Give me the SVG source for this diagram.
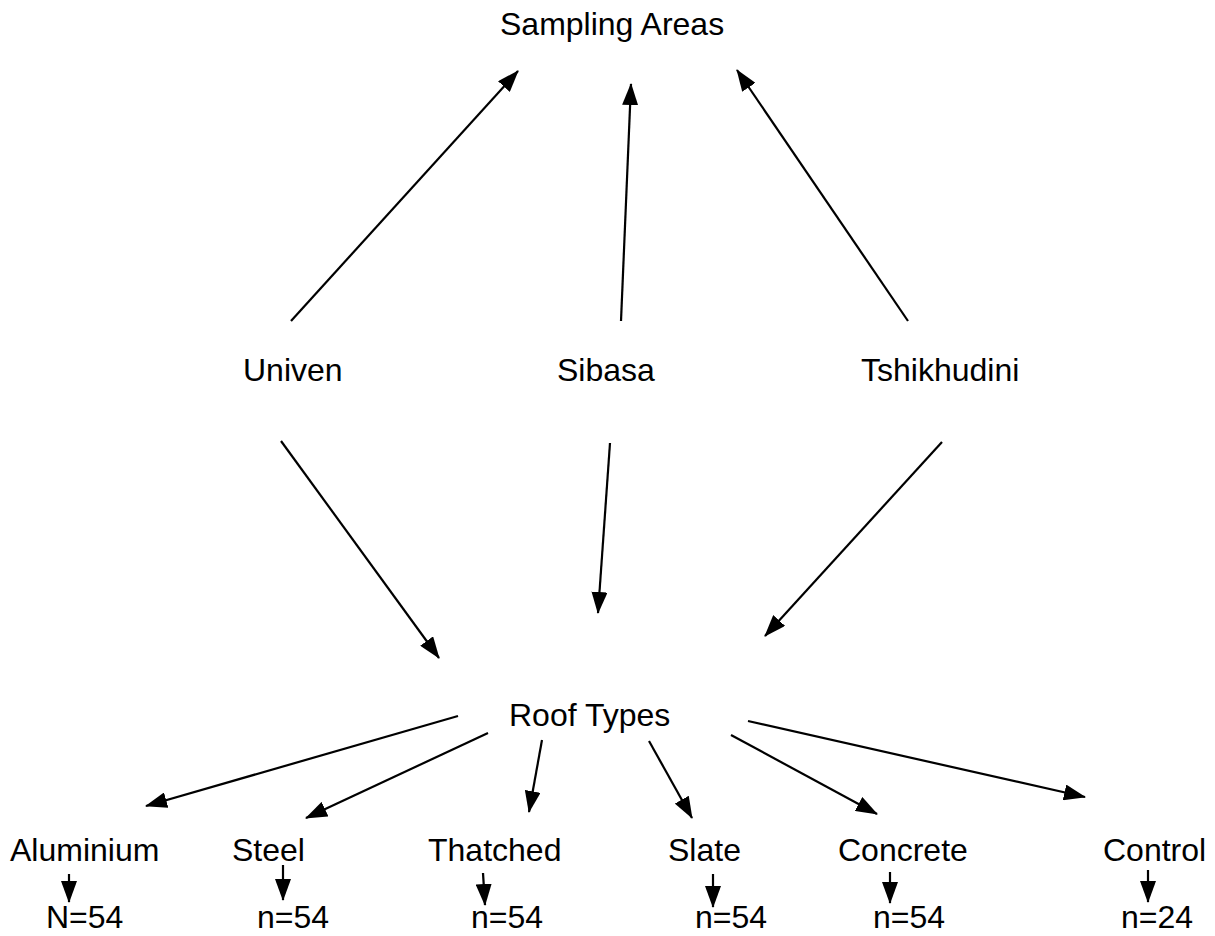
<svg xmlns="http://www.w3.org/2000/svg" width="1215" height="936" viewBox="0 0 1215 936">
<defs>
<marker id="ah" markerUnits="userSpaceOnUse" markerWidth="22" markerHeight="16" refX="21" refY="8" orient="auto">
<path d="M0,0 L22,8 L0,16 z" fill="#000"/>
</marker>
<style>
text{font-family:"Liberation Sans",Arial,sans-serif;font-size:32px;fill:#000}
.c line{stroke:#000;stroke-width:2.2;marker-end:url(#ah)}
</style>
</defs>
<rect width="1215" height="936" fill="#fff"/>
<g id="sampling-areas"><text x="500" y="35">Sampling Areas</text></g>
<g id="univen"><text x="243" y="381">Univen</text></g>
<g id="sibasa"><text x="557" y="381">Sibasa</text></g>
<g id="tshikhudini"><text x="861" y="381">Tshikhudini</text></g>
<g id="roof-types"><text x="509" y="726">Roof Types</text></g>
<g id="aluminium"><text x="10" y="861">Aluminium</text></g>
<g id="steel"><text x="232" y="861">Steel</text></g>
<g id="thatched"><text x="428" y="861">Thatched</text></g>
<g id="slate"><text x="668" y="861">Slate</text></g>
<g id="concrete"><text x="838" y="861">Concrete</text></g>
<g id="control"><text x="1103" y="861">Control</text></g>
<g id="n-aluminium"><text x="46" y="928">N=54</text></g>
<g id="n-steel"><text x="257" y="928">n=54</text></g>
<g id="n-thatched"><text x="471" y="928">n=54</text></g>
<g id="n-slate"><text x="695" y="928">n=54</text></g>
<g id="n-concrete"><text x="873" y="928">n=54</text></g>
<g id="n-control"><text x="1121" y="928">n=24</text></g>
<g id="connectors" class="c">
<line x1="291" y1="321" x2="518" y2="71"/>
<line x1="621" y1="321" x2="631" y2="84"/>
<line x1="908" y1="321" x2="737" y2="70"/>
<line x1="281" y1="441" x2="439" y2="658"/>
<line x1="610" y1="443" x2="598" y2="613"/>
<line x1="942" y1="442" x2="765" y2="636"/>
<line x1="458" y1="716" x2="146" y2="806"/>
<line x1="488" y1="733" x2="306" y2="818"/>
<line x1="542" y1="740" x2="529" y2="812"/>
<line x1="649" y1="741" x2="692" y2="818"/>
<line x1="731" y1="735" x2="877" y2="814"/>
<line x1="748" y1="721" x2="1085" y2="797"/>
<line x1="69" y1="874" x2="69" y2="902"/>
<line x1="283" y1="865" x2="283" y2="900"/>
<line x1="483" y1="873" x2="485" y2="905"/>
<line x1="713" y1="874" x2="713" y2="907"/>
<line x1="890" y1="872" x2="890" y2="903"/>
<line x1="1148" y1="870" x2="1148" y2="902"/>
</g>
</svg>
